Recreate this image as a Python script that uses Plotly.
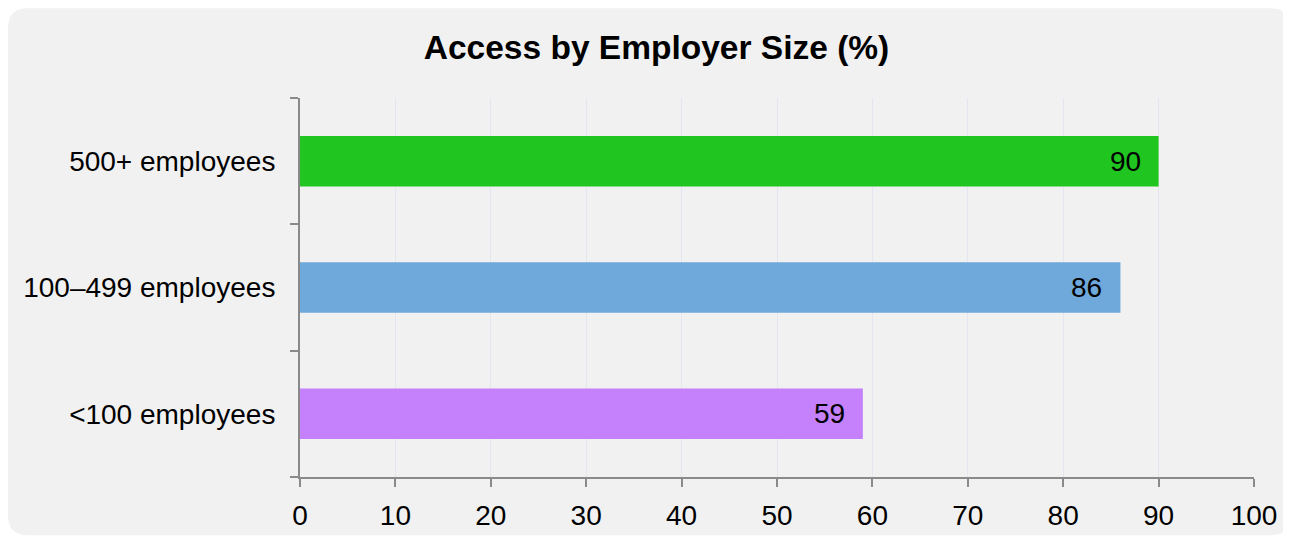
import plotly.graph_objects as go

categories = ["500+ employees", "100–499 employees", "<100 employees"]
values = [90, 86, 59]
colors = ["#20c520", "#6fa8da", "#c580fc"]
x_ticks = [0, 10, 20, 30, 40, 50, 60, 70, 80, 90, 100]

W, H = 1283, 535
L, R, T, B = 292, 37, 90, 61
pw, ph = W - L - R, H - T - B

def px2x(px):
    return (px - L) / pw

def py2y(py):
    return (H - B - py) / ph

# rounded panel covering the whole figure
x0, x1, y0, y1 = 0, W - 1, -1, H - 2
r = 20
rx, ry = r / pw, r / ph
X0, X1 = px2x(x0), px2x(x1)
Yt, Yb = py2y(y0), py2y(y1)
path = (f"M {X0+rx},{Yt} L {X1-rx},{Yt} Q {X1},{Yt} {X1},{Yt-ry} "
        f"L {X1},{Yb+ry} Q {X1},{Yb} {X1-rx},{Yb} "
        f"L {X0+rx},{Yb} Q {X0},{Yb} {X0},{Yb+ry} "
        f"L {X0},{Yt-ry} Q {X0},{Yt} {X0+rx},{Yt} Z")

FONT = "Liberation Sans, Arial, sans-serif"

fig = go.Figure(go.Bar(
    x=values, y=categories, orientation="h",
    marker=dict(color=colors, line=dict(width=0)),
    width=0.4,
    hoverinfo="skip",
))

annotations = [
    dict(x=v, y=c, xref="x", yref="y", text=str(v), showarrow=False,
         xanchor="right", yanchor="middle", xshift=-16,
         font=dict(size=28, color="#000000", family=FONT))
    for c, v in zip(categories, values)
]

fig.update_layout(
    width=W, height=H,
    margin=dict(l=L, r=R, t=T, b=B, pad=0),
    paper_bgcolor="#ffffff",
    plot_bgcolor="rgba(0,0,0,0)",
    font=dict(family=FONT, size=28, color="#000000"),
    title=dict(text="<b>Access by Employer Size (%)</b>", x=(656.5 - 8) / W,
               xref="container", xanchor="center", y=1 - 39 / H, yanchor="middle",
               font=dict(size=33.5, color="#000000")),
    showlegend=False,
    annotations=annotations,
    shapes=[dict(type="path", path=path, xref="paper", yref="paper",
                 fillcolor="#f1f1f1", line=dict(width=0), layer="below")],
    xaxis=dict(range=[0, 100], tickvals=x_ticks, ticktext=[str(t) for t in x_ticks],
               showgrid=True, gridcolor="#e3e6ee", gridwidth=1,
               showline=True, linecolor="#8a8a8a", linewidth=2,
               ticks="outside", ticklen=8, tickwidth=2, tickcolor="#8a8a8a",
               ticklabelstandoff=4,
               zeroline=False, tickfont=dict(size=28), fixedrange=True),
    yaxis=dict(categoryorder="array", categoryarray=categories[::-1],
               range=[-0.5, 2.5], showgrid=False,
               showline=True, linecolor="#8a8a8a", linewidth=2,
               ticks="outside", ticklen=8, tickwidth=2, tickcolor="#8a8a8a",
               tickson="boundaries", ticklabelstandoff=17,
               zeroline=False, tickfont=dict(size=28), fixedrange=True),
)

fig.write_html("out.html", config={"displayModeBar": False})
